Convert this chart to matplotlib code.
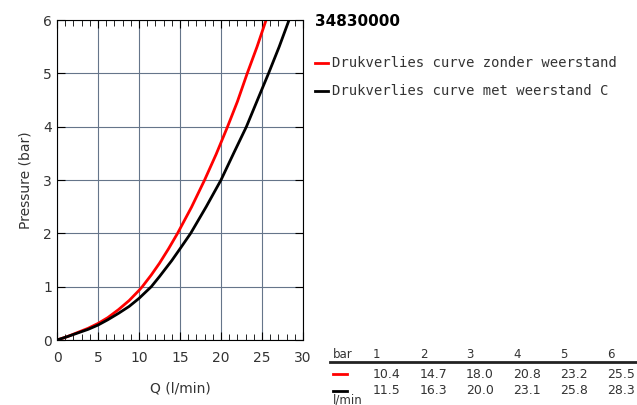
import numpy as np
import matplotlib.pyplot as plt
from matplotlib.ticker import MultipleLocator

p_bar = [1, 2, 3, 4, 5, 6]
q_red = [10.4, 14.7, 18.0, 20.8, 23.2, 25.5]
q_black = [11.5, 16.3, 20.0, 23.1, 25.8, 28.3]

# curve points
red_q = [0, 1.2, 2.5, 3.8, 5, 6.2, 7.5, 8.8, 10, 10.4, 11.5, 12.5, 13.6, 14.7,
         16.4, 18.0, 19.4, 20.8, 22.0, 23.2, 24.4, 25.5]
red_p = [0, 0.06, 0.14, 0.22, 0.31, 0.42, 0.57, 0.74, 0.93, 1, 1.22, 1.44, 1.71, 2,
         2.49, 3, 3.48, 4, 4.47, 5, 5.5, 6]
black_q = [0, 1.2, 2.5, 3.8, 5, 6.2, 7.5, 8.8, 10, 11.5, 12.5, 14, 15, 16.3,
           18.2, 20.0, 21.6, 23.1, 24.5, 25.8, 27.1, 28.3]
black_p = [0, 0.06, 0.13, 0.2, 0.28, 0.38, 0.5, 0.63, 0.78, 1, 1.19, 1.49, 1.71, 2,
           2.5, 3, 3.52, 4, 4.52, 5, 5.5, 6]

title = "34830000"
labels = ["Drukverlies curve zonder weerstand", "Drukverlies curve met weerstand C"]

fig = plt.figure(figsize=(6.37, 4.05), dpi=100)
W, H = 637, 405
ax = fig.add_axes([57 / W, 1 - 340 / H, 246 / W, 320 / H])

ax.plot(red_q, red_p, color="red", lw=2, solid_capstyle="butt")
ax.plot(black_q, black_p, color="black", lw=2, solid_capstyle="butt")

ax.set_xlim(0, 30)
ax.set_ylim(0, 6)
ax.xaxis.set_major_locator(MultipleLocator(5))
ax.xaxis.set_minor_locator(MultipleLocator(1))
ax.yaxis.set_major_locator(MultipleLocator(1))
ax.grid(True, color="#65758a", lw=0.8)
ax.tick_params(which="both", direction="in", top=True, right=True, labelsize=10,
               labelcolor="#333333")
ax.tick_params(which="major", length=6)
ax.tick_params(which="minor", length=4)
ax.tick_params(axis="x", pad=8)
ax.set_xlabel("Q (l/min)", fontsize=10, labelpad=12, color="#333333")
ax.set_ylabel("Pressure (bar)", fontsize=10, labelpad=8, color="#333333")

# title and legend on the right
fig.text(315 / W, 1 - 22 / H, title, fontsize=11, fontweight="bold", va="center")
mono = "DejaVu Sans Mono"
for i, (lab, col) in enumerate(zip(labels, ["red", "black"])):
    y = 1 - (63 + 28 * i) / H
    fig.add_artist(plt.Line2D([315 / W, 328 / W], [y, y], color=col, lw=2))
    fig.text(332 / W, y, lab, fontsize=10, family=mono, va="center", color="#333333")

# table below legend
cols_x = [373, 420, 466, 513, 560, 607]
fig.text(333 / W, 1 - 355 / H, "bar", fontsize=8.5, va="center", color="#333333")
for x, p in zip(cols_x, p_bar):
    fig.text(x / W, 1 - 355 / H, str(p), fontsize=8.5, va="center", color="#333333")
fig.add_artist(plt.Line2D([330 / W, 637 / W], [1 - 362 / H] * 2, color="#222222", lw=2))
for row, (vals, col) in enumerate(zip([q_red, q_black], ["red", "black"])):
    y = 1 - (374 + 17 * row) / H
    fig.add_artist(plt.Line2D([333 / W, 347 / W], [y, y], color=col, lw=2))
    for x, v in zip(cols_x, vals):
        fig.text(x / W, y, f"{v:.1f}", fontsize=9, va="center", color="#333333")
fig.text(333 / W, 1 - 400 / H, "l/min", fontsize=8.5, va="center", color="#333333")

fig.savefig("out.png", dpi=100)
